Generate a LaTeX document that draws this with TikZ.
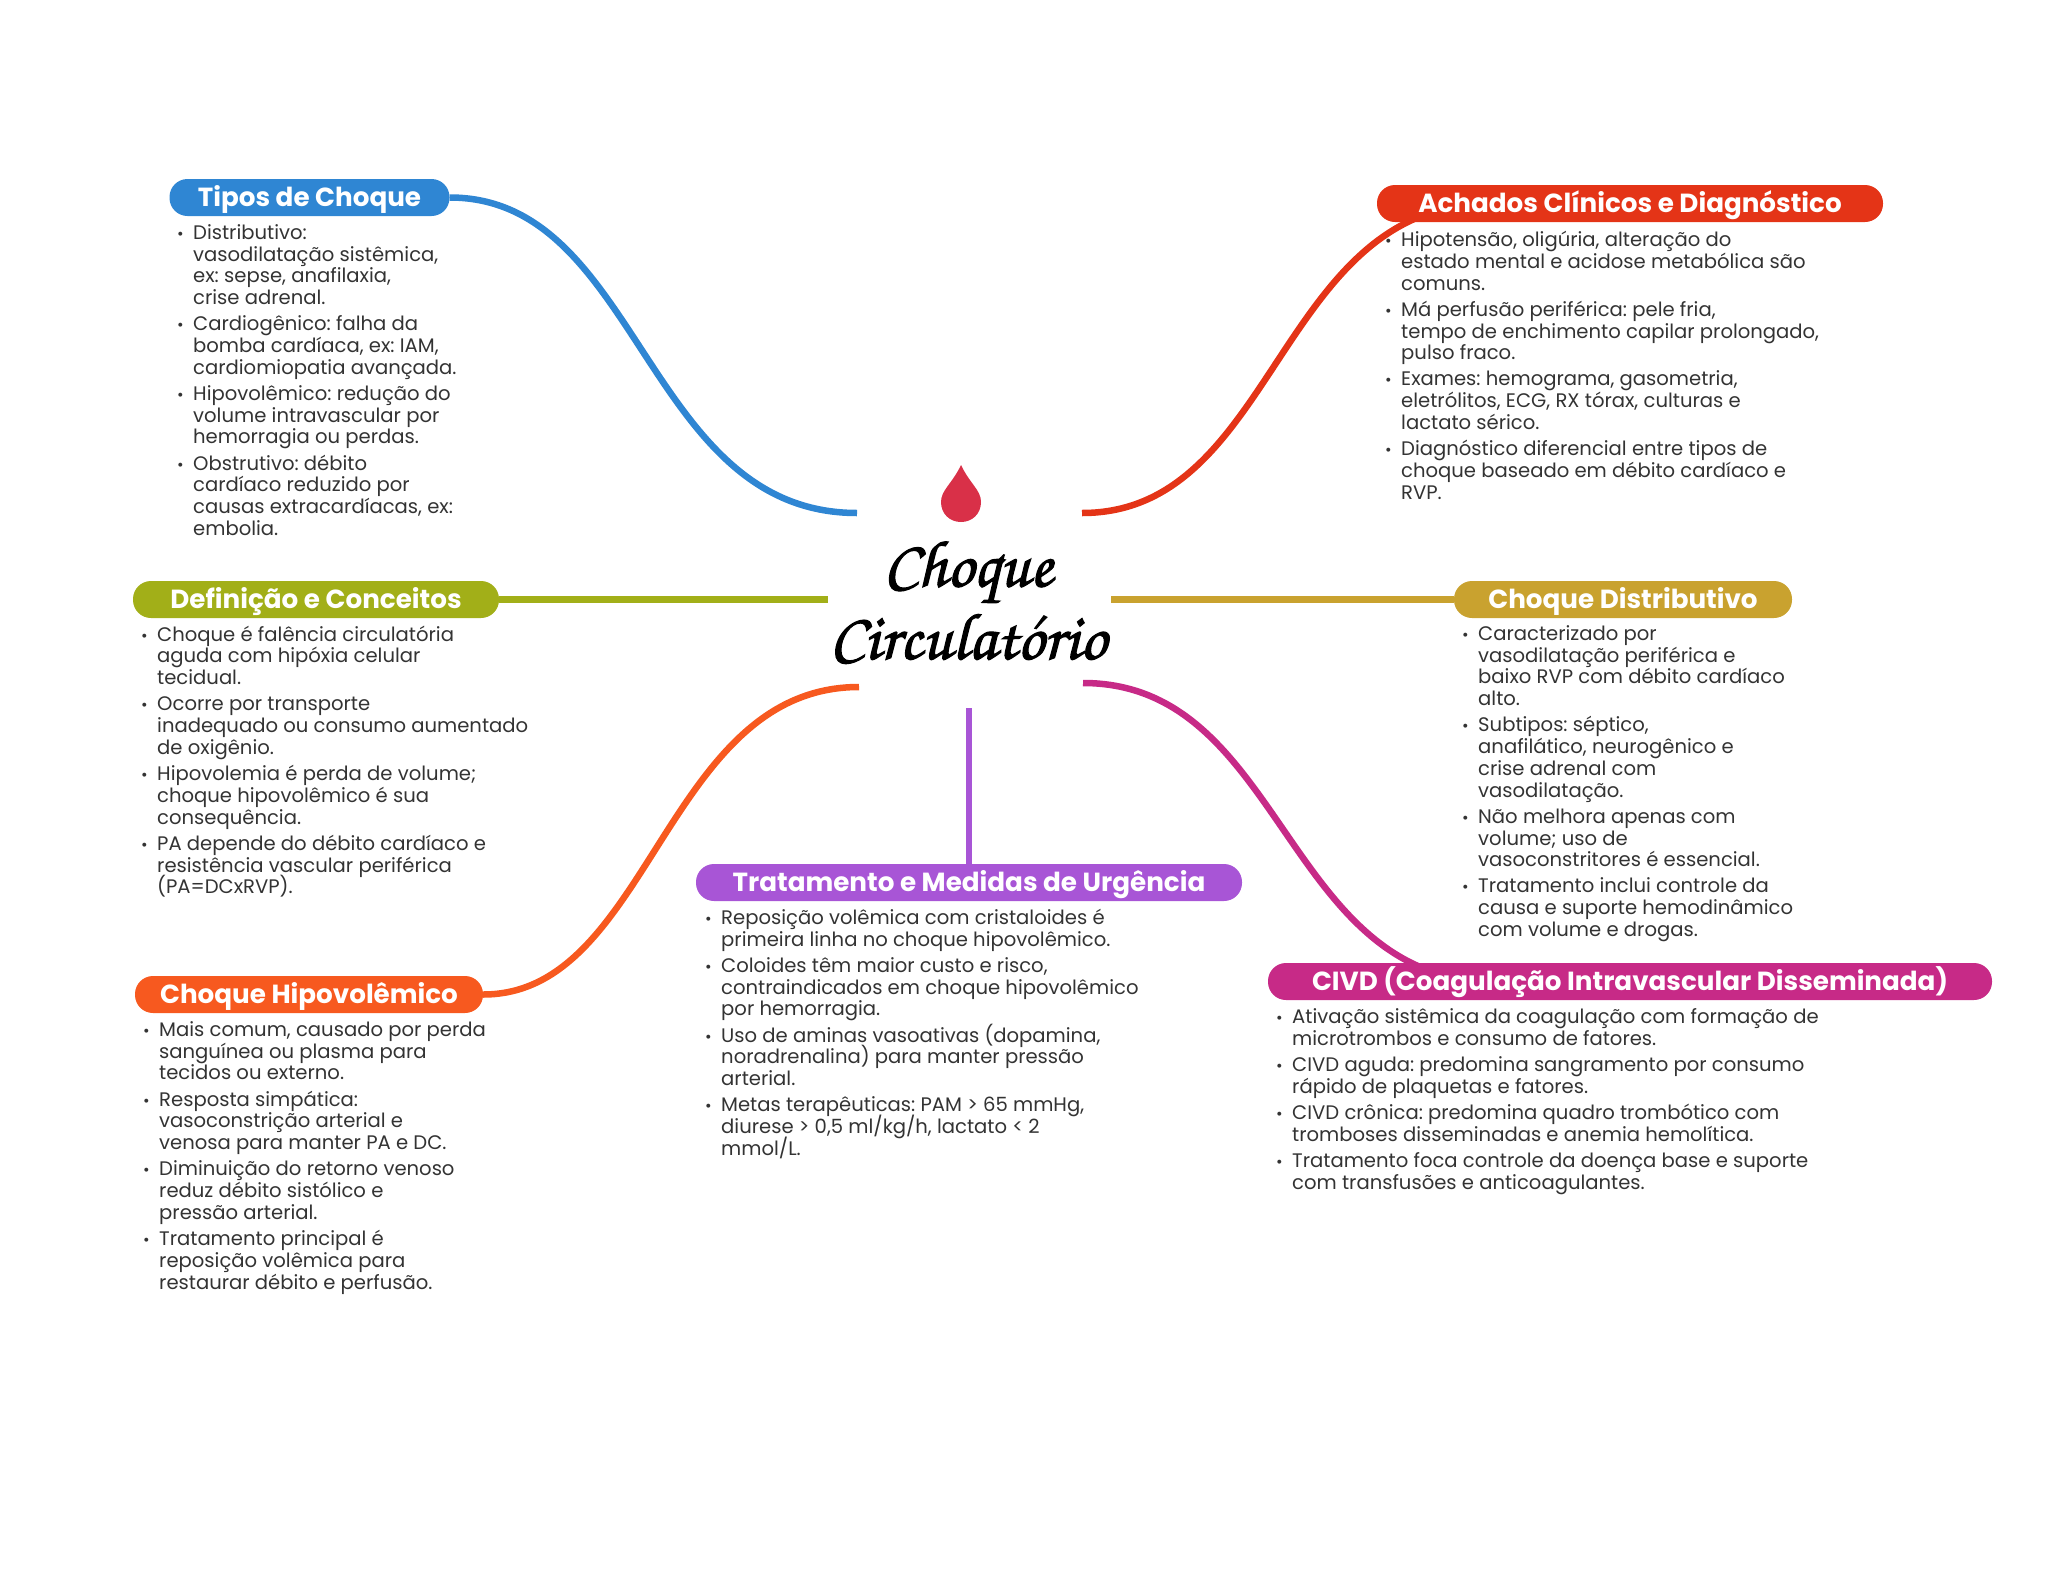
\documentclass[tikz,border=0pt]{standalone}
\usepackage[T1,TU]{fontenc}
\usepackage{fontspec}
\setmainfont{Poppins}
\usetikzlibrary{backgrounds}
\definecolor{tipos}{HTML}{2F86D3}
\definecolor{achados}{HTML}{E43417}
\definecolor{definicao}{HTML}{A2AF18}
\definecolor{distrib}{HTML}{C9A22F}
\definecolor{hipo}{HTML}{F7591F}
\definecolor{tratam}{HTML}{A855D6}
\definecolor{civd}{HTML}{C72A87}
\definecolor{gota}{HTML}{D93048}
\definecolor{corpo}{HTML}{333333}
\newcommand{\topico}[1]{\makebox[23pt][l]{\hspace{7pt}{\fontsize{16}{16}\selectfont\textbullet}}\parbox[t]{800pt}{\raggedright\lineskiplimit=-30pt\strut #1\strut}\\[3.4pt]}
\newcommand{\pincel}[1]{\special{pdf:code q 2 Tr 1.1 w}#1\special{pdf:code Q}}

\begin{document}
\begin{tikzpicture}[x=1pt, y=-1pt,
    head/.style={rectangle, rounded corners=18pt, fill=#1, text=white, inner sep=0pt,
                 minimum height=37pt, text height=23.5pt, text depth=6pt,
                 font=\fontsize{26.2}{30}\selectfont\bfseries},
    listbox/.style={anchor=north west, align=left, inner sep=0pt, text=corpo,
                    font=\fontsize{19.6}{21.75}\selectfont\frenchspacing},
    ligacao/.style={line width=6.5pt, draw=#1},
    titulo/.style={inner sep=0pt, text=black,
                   font=\fontencoding{T1}\fontfamily{pzc}\fontsize{66}{70}\selectfont}]

    \useasboundingbox (0,0) rectangle (2048,1569);

    % Centre
    \fill[gota] (961,465) .. controls (952,484) and (941,490) .. (941,502)
        .. controls (941,514) and (950,522) .. (961,522)
        .. controls (972,522) and (981,514) .. (981,502)
        .. controls (981,490) and (970,484) .. (961,465);
    \node[titulo] (linha1) at (968,573) {\pincel{Choque}};
    \node[titulo] (linha2) at (968,636) {\pincel{Circulat\'orio}};

    % Branch heads
    \node[head=tipos, minimum width=280pt] (htipos) at (309.5,197.5) {Tipos de Choque};
    \node[head=achados, minimum width=506pt] (hachados) at (1630,203.5) {Achados Clínicos e Diagnóstico};
    \node[head=definicao, minimum width=366pt] (hdef) at (316,599.5) {Definição e Conceitos};
    \node[head=distrib, minimum width=338pt] (hdist) at (1623,599.5) {Choque Distributivo};
    \node[head=hipo, minimum width=348pt] (hhipo) at (309,994.5) {Choque Hipovolêmico};
    \node[head=tratam, minimum width=546pt] (htrat) at (969,882.5) {Tratamento e Medidas de Urgência};
    \node[head=civd, minimum width=724pt] (hcivd) at (1630,981.5) {CIVD (Coagulação Intravascular Disseminada)};

    % Free ends near the centre
    \coordinate (ftipos) at (857,513);
    \coordinate (fachados) at (1082,513);
    \coordinate (fdef) at (828,599.5);
    \coordinate (fdist) at (1111,599.5);
    \coordinate (fhipo) at (859,687);
    \coordinate (ftrat) at (969,708);
    \coordinate (fcivd) at (1083,683);
    \coordinate (eachados) at (1490,203.5);
    \coordinate (ecivd) at (1494,981.5);

    % Connectors
    \begin{scope}[on background layer]
        \draw[ligacao=tipos] (htipos.east) .. controls (640,197.5) and (645,513) .. (ftipos);
        \draw[ligacao=achados] (fachados) .. controls (1277,513) and (1277,203.5) .. (eachados);
        \draw[ligacao=definicao] (hdef.east) -- (fdef);
        \draw[ligacao=distrib] (fdist) -- (hdist.west);
        \draw[ligacao=hipo] (hhipo.east) .. controls (650,994.5) and (665,687) .. (fhipo);
        \draw[ligacao=tratam] (ftrat) -- (htrat.north);
        \draw[ligacao=civd] (fcivd) .. controls (1284,683) and (1284,981.5) .. (ecivd);
    \end{scope}

    % Lists
    \node[listbox] (ltipos) at (170,224) {
        \topico{Distributivo:\\vasodilatação sistêmica,\\ex: sepse, anafilaxia,\\crise adrenal.}
        \topico{Cardiogênico: falha da\\bomba cardíaca, ex: IAM,\\cardiomiopatia avançada.}
        \topico{Hipovolêmico: redução do\\volume intravascular por\\hemorragia ou perdas.}
        \topico{Obstrutivo: débito\\cardíaco reduzido por\\causas extracardíacas, ex:\\embolia.}
    };
    \node[listbox] (lachados) at (1378,231) {
        \topico{Hipotensão, oligúria, alteração do\\estado mental e acidose metabólica são\\comuns.}
        \topico{Má perfusão periférica: pele fria,\\tempo de enchimento capilar prolongado,\\pulso fraco.}
        \topico{Exames: hemograma, gasometria,\\eletrólitos, ECG, RX tórax, culturas e\\lactato sérico.}
        \topico{Diagnóstico diferencial entre tipos de\\choque baseado em débito cardíaco e\\RVP.}
    };
    \node[listbox] (ldef) at (134,625.5) {
        \topico{Choque é falência circulatória\\aguda com hipóxia celular\\tecidual.}
        \topico{Ocorre por transporte\\inadequado ou consumo aumentado\\de oxigênio.}
        \topico{Hipovolemia é perda de volume;\\choque hipovolêmico é sua\\consequência.}
        \topico{PA depende do débito cardíaco e\\resistência vascular periférica\\(PA=DCxRVP).}
    };
    \node[listbox] (ldist) at (1455,625) {
        \topico{Caracterizado por\\vasodilatação periférica e\\baixo RVP com débito cardíaco\\alto.}
        \topico{Subtipos: séptico,\\anafilático, neurogênico e\\crise adrenal com\\vasodilatação.}
        \topico{Não melhora apenas com\\volume; uso de\\vasoconstritores é essencial.}
        \topico{Tratamento inclui controle da\\causa e suporte hemodinâmico\\com volume e drogas.}
    };
    \node[listbox] (lhipo) at (136,1021) {
        \topico{Mais comum, causado por perda\\sanguínea ou plasma para\\tecidos ou externo.}
        \topico{Resposta simpática:\\vasoconstrição arterial e\\venosa para manter PA e DC.}
        \topico{Diminuição do retorno venoso\\reduz débito sistólico e\\pressão arterial.}
        \topico{Tratamento principal é\\reposição volêmica para\\restaurar débito e perfusão.}
    };
    \node[listbox] (ltrat) at (698,909) {
        \topico{Reposição volêmica com cristaloides é\\primeira linha no choque hipovolêmico.}
        \topico{Coloides têm maior custo e risco,\\contraindicados em choque hipovolêmico\\por hemorragia.}
        \topico{\smash{Uso de aminas vasoativas (dopamina,}\\noradrenalina) para manter pressão\\arterial.}
        \topico{Metas terapêuticas: PAM > 65 mmHg,\\diurese > 0,5 ml/kg/h, lactato < 2\\mmol/L.}
    };
    \node[listbox] (lcivd) at (1269,1008) {
        \topico{Ativação sistêmica da coagulação com formação de\\microtrombos e consumo de fatores.}
        \topico{CIVD aguda: predomina sangramento por consumo\\rápido de plaquetas e fatores.}
        \topico{CIVD crônica: predomina quadro trombótico com\\tromboses disseminadas e anemia hemolítica.}
        \topico{Tratamento foca controle da doença base e suporte\\com transfusões e anticoagulantes.}
    };
\end{tikzpicture}
\end{document}
